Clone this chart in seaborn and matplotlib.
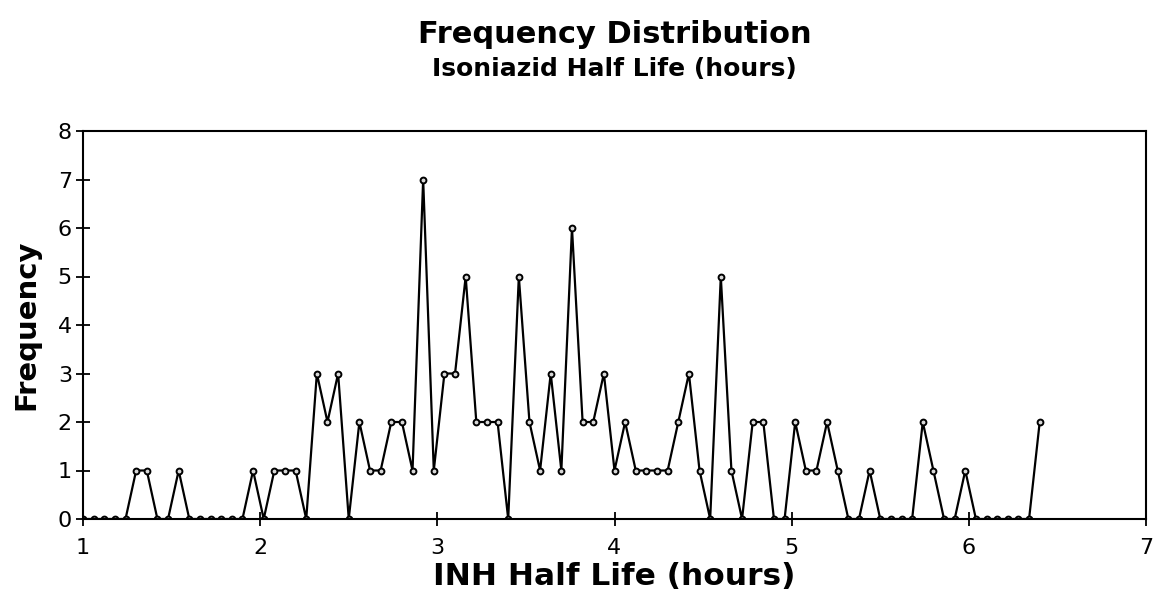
import matplotlib
matplotlib.use("Agg")
import matplotlib.pyplot as plt
import seaborn as sns
import pandas as pd

# Bin values (hours) and frequencies
half_life = [1.00, 1.06, 1.12, 1.18, 1.24, 1.30, 1.36, 1.42, 1.48, 1.54,
             1.60, 1.66, 1.72, 1.78, 1.84, 1.90, 1.96, 2.02, 2.08, 2.14,
             2.20, 2.26, 2.32, 2.38, 2.44, 2.50, 2.56, 2.62, 2.68, 2.74,
             2.80, 2.86, 2.92, 2.98, 3.04, 3.10, 3.16, 3.22, 3.28, 3.34,
             3.40, 3.46, 3.52, 3.58, 3.64, 3.70, 3.76, 3.82, 3.88, 3.94,
             4.00, 4.06, 4.12, 4.18, 4.24, 4.30, 4.36, 4.42, 4.48, 4.54,
             4.60, 4.66, 4.72, 4.78, 4.84, 4.90, 4.96, 5.02, 5.08, 5.14,
             5.20, 5.26, 5.32, 5.38, 5.44, 5.50, 5.56, 5.62, 5.68, 5.74,
             5.80, 5.86, 5.92, 5.98, 6.04, 6.10, 6.16, 6.22, 6.28, 6.34,
             6.40]
frequency = [0, 0, 0, 0, 0, 1, 1, 0, 0, 1,
             0, 0, 0, 0, 0, 0, 1, 0, 1, 1,
             1, 0, 3, 2, 3, 0, 2, 1, 1, 2,
             2, 1, 7, 1, 3, 3, 5, 2, 2, 2,
             0, 5, 2, 1, 3, 1, 6, 2, 2, 3,
             1, 2, 1, 1, 1, 1, 2, 3, 1, 0,
             5, 1, 0, 2, 2, 0, 0, 2, 1, 1,
             2, 1, 0, 0, 1, 0, 0, 0, 0, 2,
             1, 0, 0, 1, 0, 0, 0, 0, 0, 0,
             2]
x_ticks = [1, 2, 3, 4, 5, 6, 7]
y_ticks = [0, 1, 2, 3, 4, 5, 6, 7, 8]

title = "Frequency Distribution"
subtitle = "Isoniazid Half Life (hours)"
x_label = "INH Half Life (hours)"
y_label = "Frequency"

sns.set_style("ticks")
plt.rcParams["font.family"] = ["DejaVu Sans"]
plt.rcParams["text.color"] = "black"
plt.rcParams["axes.labelcolor"] = "black"

df = pd.DataFrame({"half_life": half_life, "frequency": frequency})

W, H = 1153, 612
L, R, T, B = 83, 1146, 131, 519
fig = plt.figure(figsize=(W / 100, H / 100), dpi=100)
ax = fig.add_axes([L / W, 1 - B / H, (R - L) / W, (B - T) / H])

sns.lineplot(data=df, x="half_life", y="frequency", ax=ax, color="black",
             linewidth=1.6, marker="o", markersize=4.2,
             markerfacecolor="#d8d8d8", markeredgecolor="black",
             markeredgewidth=1.4)

ax.set_xlim(1, 7)
ax.set_ylim(0, 8)
ax.set_xticks(x_ticks)
ax.set_yticks(y_ticks)
ax.tick_params(axis="both", direction="inout", length=10, width=1.3,
               labelsize=16, colors="black")
ax.tick_params(axis="x", pad=9)
ax.tick_params(axis="y", pad=3)
for s in ax.spines.values():
    s.set_visible(True)
    s.set_linewidth(1.5)
    s.set_color("black")

ax.set_xlabel(x_label, fontsize=22.5, fontweight="bold", va="baseline")
ax.xaxis.set_label_coords(0.5, -(585 - B) / (B - T))
ax.set_ylabel(y_label, fontsize=21, fontweight="bold", va="center", ha="center")
ax.yaxis.set_label_coords(-(L - 26) / (R - L), 0.5)

center = (L + R) / 2 / W
fig.text(center, 1 - 43 / H, title, ha="center", va="baseline",
         fontsize=22, fontweight="bold")
fig.text(center, 1 - 76 / H, subtitle, ha="center", va="baseline",
         fontsize=18, fontweight="bold")

fig.savefig("out.png", dpi=100, facecolor="white")
